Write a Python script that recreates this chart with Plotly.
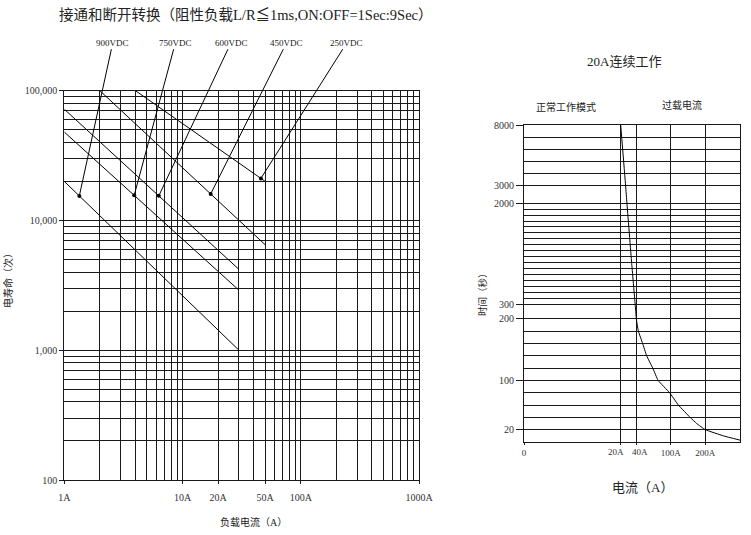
#relay life chart + 20A overload chart
import numpy as np
import plotly.graph_objects as go

#%%
# left chart: electrical life vs load current (log-log)
voltages = ["900VDC", "750VDC", "600VDC", "450VDC", "250VDC"]
line_current = [[1, 30], [1, 30], [1, 30], [2, 50], [4, 50]]
line_life = [[20000, 1000], [48000, 2900], [72000, 4200], [100000, 6500], [100000, 20000]]
pointer_current = [1.34, 3.9, 6.3, 17.3, 46]

life_ticks = [100, 1000, 10000, 100000]
life_ticktext = ["100", "1,000", "10,000", "100,000"]
load_ticks = [1, 10, 20, 50, 100, 1000]
load_ticktext = ["1A", "10A", "20A", "50A", "100A", "1000A"]

# right chart: 20A continuous duty, overload time vs current
curve_current = [20, 26.3, 28, 34, 38.5, 40, 43.5, 51, 58, 68.6, 78, 98, 122, 156, 175, 200, 252, 300]
curve_time = [8000, 3000, 2000, 1000, 300, 200, 180, 160, 140, 120, 100, 80, 60, 40, 30, 20, 10, 3]
time_ticks = [20, 100, 200, 300, 2000, 3000, 8000]
time_grid = list(range(0, 201, 20)) + list(range(300, 2001, 100)) + list(range(3000, 8001, 1000))
cur_ticks = [0, 20, 40, 100, 200]
cur_ticktext = ["0", "20A", "40A", "100A", "200A"]

# the right chart axes are hand-drawn piecewise scales
x_nodes_val = [0, 20, 40, 100, 200, 300]
x_nodes_pos = [0, 96.7, 112.3, 146.7, 181.3, 216]
y_nodes_val = [0, 200, 300, 2000, 3000, 8000]
y_nodes_pos = [0, 123.3, 138, 238.7, 256.3, 317]

def xs(v):
    return np.interp(v, x_nodes_val, x_nodes_pos)

def ys(v):
    return np.interp(v, y_nodes_val, y_nodes_pos)

#%%
FONT = "Liberation Serif, Noto Sans CJK SC"
GRID = "#1a1a1a"
W, H = 751, 535

def px_x(p):
    return p / W

def px_y(p):
    return 1 - p / H

fig = go.Figure()

for cur, life in zip(line_current, line_life):
    fig.add_trace(go.Scatter(x=cur, y=life, mode="lines",
                             line=dict(color="black", width=1),
                             xaxis="x", yaxis="y", hoverinfo="skip"))

# dots where the voltage pointers touch the lines
dot_life = []
for pc, cur, life in zip(pointer_current, line_current, line_life):
    ly = np.interp(np.log10(pc), np.log10(cur), np.log10(life))
    dot_life.append(10 ** ly)
fig.add_trace(go.Scatter(x=pointer_current, y=dot_life, mode="markers",
                         marker=dict(color="black", size=4),
                         xaxis="x", yaxis="y", hoverinfo="skip"))

fig.add_trace(go.Scatter(x=xs(curve_current), y=ys(curve_time), mode="lines",
                         line=dict(color="black", width=1, shape="spline", smoothing=0.3),
                         xaxis="x2", yaxis="y2", hoverinfo="skip"))

minor_load = [m * 10 ** k for k in range(3) for m in range(1, 10)] + [1000]
minor_life = [m * 10 ** k for k in range(2, 5) for m in range(1, 10)] + [100000]

axis_common = dict(showline=True, linecolor=GRID, linewidth=1, mirror=True,
                   ticks="outside", ticklen=4, tickcolor=GRID, zeroline=False,
                   showgrid=True, gridcolor=GRID, gridwidth=1, automargin=False,
                   tickangle=0,
                   tickfont=dict(family=FONT, size=10, color="#333"))

fig.update_layout(
    width=W, height=H,
    margin=dict(l=0, r=0, t=0, b=0),
    paper_bgcolor="white", plot_bgcolor="white",
    showlegend=False,
    font=dict(family=FONT, color="#222"),
    xaxis=dict(axis_common, type="log", range=[0, 3], domain=[px_x(64.3), px_x(419)],
               tickmode="array", tickvals=load_ticks, ticktext=load_ticktext,
               ticklen=3, ticklabelstandoff=5,
               minor=dict(tickmode="array", tickvals=minor_load, showgrid=True,
                          gridcolor=GRID, gridwidth=1, ticks=""),
               anchor="y"),
    yaxis=dict(axis_common, type="log", range=[2, 5], domain=[px_y(480), px_y(90.7)],
               tickmode="array", tickvals=life_ticks, ticktext=life_ticktext,
               minor=dict(tickmode="array", tickvals=minor_life, showgrid=True,
                          gridcolor=GRID, gridwidth=1, ticks=""),
               anchor="x"),
    xaxis2=dict(axis_common, range=[0, 216], domain=[px_x(524), px_x(740)],
                tickmode="array", tickvals=xs(cur_ticks),
                ticktext=["" if t in (20, 40) else s for t, s in zip(cur_ticks, cur_ticktext)],
                ticklen=2, tickfont=dict(family=FONT, size=9, color="#333"),
                anchor="y2"),
    yaxis2=dict(axis_common, range=[0, 317], domain=[px_y(442), px_y(125)],
                tickmode="array", tickvals=ys(time_ticks), ticktext=[str(t) for t in time_ticks],
                ticklen=7,
                minor=dict(tickmode="array", tickvals=ys(time_grid), showgrid=True,
                           gridcolor=GRID, gridwidth=1, ticks=""),
                anchor="x2"),
)

# 20A / 40A labels sit too close together for normal tick labels
for t, s, shift in [(20, "20A", -5), (40, "40A", 4)]:
    i = cur_ticks.index(t)
    fig.add_annotation(text=cur_ticktext[i], x=xs(t), y=px_y(452), xref="x2", yref="paper",
                       xshift=shift, showarrow=False, xanchor="center", yanchor="middle",
                       font=dict(family=FONT, size=9, color="#333"))

# voltage labels with pointer lines
label_x_log = [0.41, 0.94, 1.41, 1.88, 2.39]
for v, pc, dl, lx in zip(voltages, pointer_current, dot_life, label_x_log):
    fig.add_annotation(x=np.log10(pc), y=np.log10(dl), xref="x", yref="y",
                       axref="x", ayref="y", ax=lx, ay=5.37,
                       text=v, showarrow=True, arrowhead=0, arrowwidth=1,
                       arrowcolor="black", font=dict(family=FONT, size=9, color="#222"))

texts = [
    ("接通和断开转换（阻性负载L/R≦1ms,ON:OFF=1Sec:9Sec）", 246, 15, 14.5, 0),
    ("负载电流（A）", 253, 522, 10, 0),
    ("电寿命（次）", 8, 278, 10, -90),
    ("20A连续工作", 624, 61, 13, 0),
    ("正常工作模式", 566, 107, 10, 0),
    ("过载电流", 682, 105, 10, 0),
    ("时间（秒）", 482, 292, 9.5, -90),
    ("电流（A）", 642, 488, 13, 0),
]
for t, x, y, s, ang in texts:
    fig.add_annotation(text=t, x=px_x(x), y=px_y(y), xref="paper", yref="paper",
                       showarrow=False, textangle=ang, xanchor="center", yanchor="middle",
                       font=dict(family=FONT, size=s, color="#222"))

# page body has a default 8px margin; drop it so the figure fills the window
fig.write_html("out.html", config={"displayModeBar": False},
               post_script="document.body.style.margin='0';")
